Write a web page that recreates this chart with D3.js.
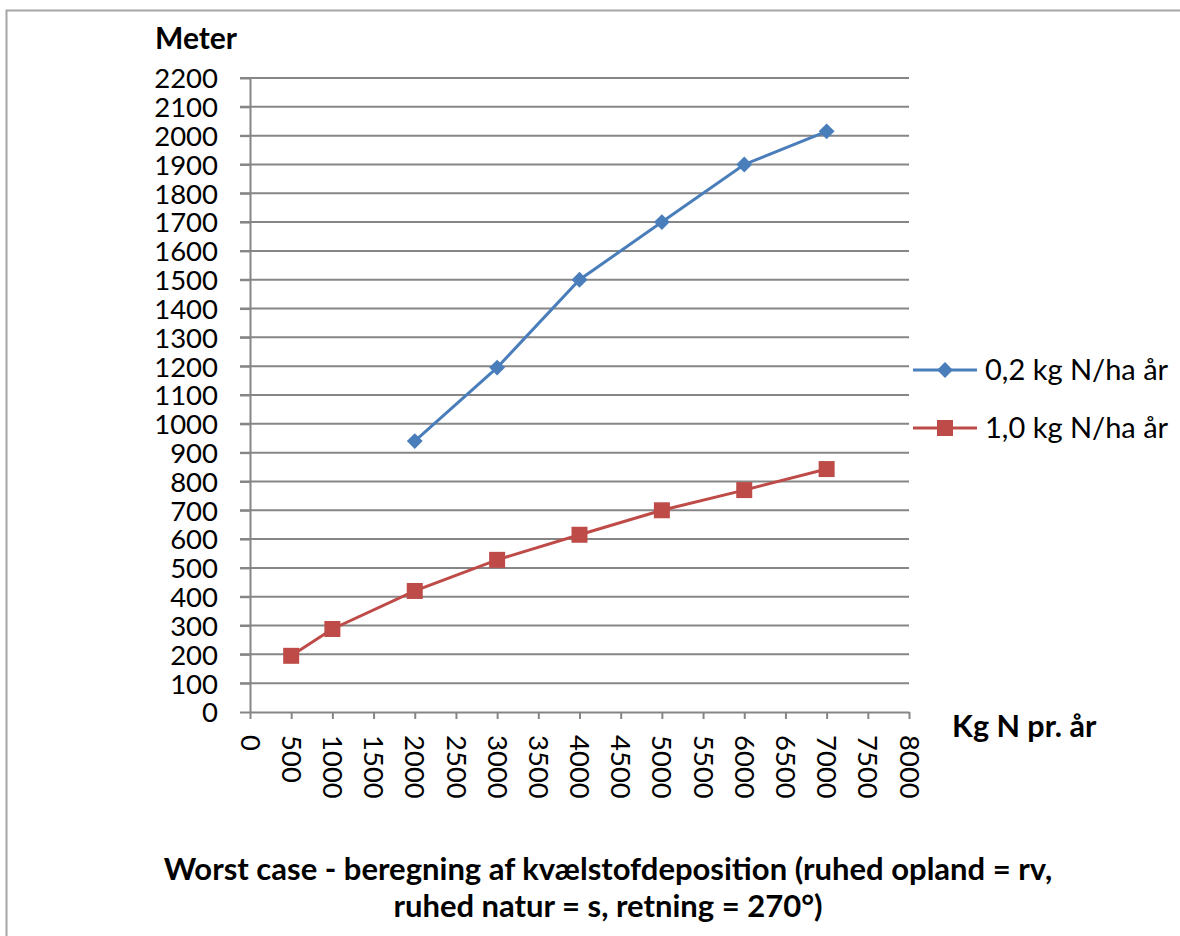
<!DOCTYPE html>
<html lang="da">
<head>
<meta charset="UTF-8" />
<title>Worst case - beregning af kvælstofdeposition</title>
<script src="https://cdn.jsdelivr.net/npm/d3@7"></script>
<style>
  body { margin: 0; background: #fff; }
  svg text { font-family: Lato, "Open Sans", sans-serif; fill: #000; }
</style>
</head>
<body>
<script>
// kg N pr. år (x) og afstand i meter (y)
const xBlue = [2000, 3000, 4000, 5000, 6000, 7000];
const yBlue = [940, 1195, 1500, 1700, 1900, 2015];
const xRed = [500, 1000, 2000, 3000, 4000, 5000, 6000, 7000];
const yRed = [195, 288, 420, 528, 615, 700, 770, 843];
const seriesNames = ["0,2 kg N/ha år", "1,0 kg N/ha år"];
const xTicks = d3.range(0, 8001, 500);
const yTicks = d3.range(0, 2201, 100);
const titleLines = ["Worst case - beregning af kvælstofdeposition (ruhed opland = rv,",
                    "ruhed natur = s, retning = 270°)"];

const w = 1180, h = 936;
const gridColor = "#868686";
const blue = "#4a7ebb", red = "#be4b48";

const svg = d3.select("body").append("svg")
    .attr("width", w)
    .attr("height", h);

// ramme (kun top og venstre side synlig)
svg.append("path")
    .attr("d", "M6.5,936 V10.5 H1180")
    .attr("fill", "none")
    .attr("stroke", "#a6a6a6")
    .attr("stroke-width", 2);

const x = d3.scaleLinear([0, 8000], [250, 909]);
const y = d3.scaleLinear([0, 2200], [712, 78]);

// gitterlinjer
svg.append("g")
    .selectAll("line")
    .data(yTicks.slice(1))
    .join("line")
    .attr("x1", x(0) - 10)
    .attr("x2", x(8000))
    .attr("y1", d => y(d))
    .attr("y2", d => y(d))
    .attr("stroke", gridColor)
    .attr("stroke-width", 2);

// y akse
const yAxis = svg.append("g")
    .attr("transform", "translate(" + x(0) + ",0)")
    .call(d3.axisLeft(y).tickValues(yTicks).tickFormat(d3.format("d"))
        .tickSizeInner(10).tickSizeOuter(0).tickPadding(22));
yAxis.selectAll("line, path").attr("stroke", gridColor).attr("stroke-width", 2);
yAxis.selectAll("text")
    .style("font-size", "27.5px")
    .attr("dy", "0.36em");

// x akse
const xAxis = svg.append("g")
    .attr("transform", "translate(0," + y(0) + ")")
    .call(d3.axisBottom(x).tickValues(xTicks).tickFormat(d3.format("d"))
        .tickSizeInner(7).tickSizeOuter(0));
xAxis.selectAll("line, path").attr("stroke", gridColor).attr("stroke-width", 2);
xAxis.selectAll("text")
    .style("font-size", "27.5px")
    .attr("transform", "rotate(90)")
    .attr("text-anchor", "start")
    .attr("x", 23)
    .attr("y", 0)
    .attr("dy", "0.36em");

// akse titler
svg.append("text")
    .attr("x", 155).attr("y", 49)
    .style("font-size", "30px").style("font-weight", "bold")
    .text("Meter");
svg.append("text")
    .attr("x", 952).attr("y", 737)
    .style("font-size", "30.5px").style("font-weight", "bold")
    .text("Kg N pr. år");

// linjer og markører
const line = d3.line().x(d => x(d[0])).y(d => y(d[1]));
const blueData = xBlue.map((v, i) => [v, yBlue[i]]);
const redData = xRed.map((v, i) => [v, yRed[i]]);

svg.append("path").datum(blueData)
    .attr("d", line).attr("fill", "none")
    .attr("stroke", blue).attr("stroke-width", 3);
svg.append("path").datum(redData)
    .attr("d", line).attr("fill", "none")
    .attr("stroke", red).attr("stroke-width", 3);

const diamond = d3.symbol(d3.symbolDiamond2, 160);
const square = d3.symbol(d3.symbolSquare, 256);

svg.selectAll(".dot-blue").data(blueData).join("path")
    .attr("class", "dot-blue")
    .attr("d", diamond)
    .attr("transform", d => "translate(" + x(d[0]) + "," + y(d[1]) + ")")
    .attr("fill", blue);
svg.selectAll(".dot-red").data(redData).join("path")
    .attr("class", "dot-red")
    .attr("d", square)
    .attr("transform", d => "translate(" + x(d[0]) + "," + y(d[1]) + ")")
    .attr("fill", red);

// forklaring
const legend = svg.append("g");
const legendY = [370, 428];
[blue, red].forEach((c, i) => {
    legend.append("line")
        .attr("x1", 913).attr("x2", 977)
        .attr("y1", legendY[i]).attr("y2", legendY[i])
        .attr("stroke", c).attr("stroke-width", 3);
    legend.append("path")
        .attr("d", i === 0 ? diamond : square)
        .attr("transform", "translate(945," + legendY[i] + ")")
        .attr("fill", c);
    legend.append("text")
        .attr("x", 985).attr("y", legendY[i])
        .attr("dy", "0.36em")
        .style("font-size", "29px")
        .text(seriesNames[i]);
});

// titel under diagrammet
svg.selectAll(".title").data(titleLines).join("text")
    .attr("class", "title")
    .attr("x", 608)
    .attr("y", (d, i) => 880 + i * 37)
    .attr("text-anchor", "middle")
    .style("font-size", "31px")
    .style("font-weight", "bold")
    .text(d => d);
</script>
</body>
</html>
